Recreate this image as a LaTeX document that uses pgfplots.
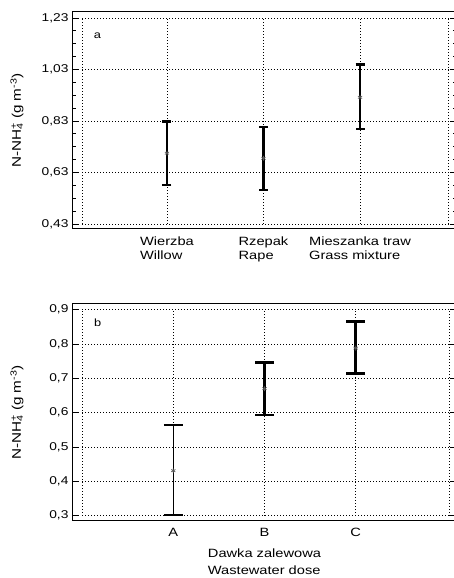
\documentclass[border=0pt]{standalone}
\usepackage{fontspec}
\setmainfont{Liberation Sans}[FakeStretch=1.22]
\usepackage{pgfplots}
\pgfplotsset{compat=1.18}

% dotted inner frame and grid, as in Statistica output
\tikzset{gridline/.style={black, line width=0.8pt, dash pattern=on 0.8pt off 2.2pt}}

\pgfplotsset{
  panel/.style={
    scale only axis, width=385pt, height=217pt,
    anchor=south west,
    axis line style={line width=1pt},
    ytick pos=both, tick align=inside,
    major tick length=7pt, minor tick length=4pt,
    tick style={black, line width=0.8pt},
    xtick style={draw=none},
    yticklabel style={font=\fontsize{11.3}{13}\selectfont},
    xticklabel style={align=left, font=\fontsize{12}{14}\selectfont, yshift=-4pt},
    ylabel={N-NH\rlap{\textsuperscript{+}}\textsubscript{4} (g m\textsuperscript{-3})},
    ylabel style={at={(axis description cs:-0.143,0.5)}, anchor=center,
                  font=\fontsize{12.5}{14}\selectfont},
    clip=false,
  },
  means/.style={
    only marks, mark=asterisk, mark size=2.4pt,
    mark options={black!65, line width=0.7pt},
    error bars/.cd, y dir=both, y explicit,
  },
}

\begin{document}
\begin{tikzpicture}
\path[use as bounding box] (0,0) rectangle (453pt,578pt);

% ---- a: plant species
\begin{axis}[panel,
  at={(72pt,349pt)},
  xmin=-0.984, xmax=3.005,
  ymin=0.4106, ymax=1.2533,
  xtick={0,1,2},
  xticklabels={{Wierzba\\Willow},{Rzepak\\Rape},{Mieszanka traw\\Grass mixture}},
  ytick={0.43,0.63,0.83,1.03,1.23},
  yticklabels={{0,43},{0,63},{0,83},{1,03},{1,23}},
  minor y tick num=3,
]
\pgfplotsinvokeforeach{0.43,0.63,0.83,1.03,1.23}{
  \draw[gridline] (axis cs:-0.88,#1) -- (axis cs:2.92,#1);}
\pgfplotsinvokeforeach{-0.88,0,1,2,2.92}{
  \draw[gridline] (axis cs:#1,0.43) -- (axis cs:#1,1.23);}
\node[anchor=west, inner sep=0pt, font=\fontsize{10.5}{11}\selectfont] at (axis cs:-0.76,1.163) {a};

\addplot[means,
  error bar style={black, line width=2.7pt},
  error mark options={black, line width=2.4pt, mark size=4.5pt, rotate=90}]
  coordinates {
    (0,0.705) += (0,0.123) -= (0,0.123)
    (1,0.685) += (0,0.122) -= (0,0.124)
    (2,0.922) += (0,0.127) -= (0,0.122)
  };
\end{axis}

% ---- b: wastewater dose
\begin{axis}[panel,
  at={(72pt,57pt)},
  xmin=-1.111, xmax=3.111,
  ymin=0.2845, ymax=0.9166,
  xtick={0,1,2},
  xticklabels={A,B,C},
  ytick={0.3,0.4,0.5,0.6,0.7,0.8,0.9},
  yticklabels={{0,3},{0,4},{0,5},{0,6},{0,7},{0,8},{0,9}},
  xlabel={Dawka zalewowa\\Wastewater dose},
  xlabel style={align=left, font=\fontsize{12}{16.5}\selectfont, yshift=-5pt},
]
\pgfplotsinvokeforeach{0.3,0.4,0.5,0.6,0.7,0.8,0.9}{
  \draw[gridline] (axis cs:-1,#1) -- (axis cs:3.026,#1);}
\pgfplotsinvokeforeach{-1,0,1,2,3.026}{
  \draw[gridline] (axis cs:#1,0.3) -- (axis cs:#1,0.9);}
\node[anchor=west, inner sep=0pt, font=\fontsize{10.5}{11}\selectfont] at (axis cs:-0.87,0.862) {b};

\addplot[means,
  error bar style={black, line width=1pt},
  error mark options={black, line width=1.6pt, mark size=9.5pt, rotate=90}]
  coordinates {
    (0,0.431) += (0,0.133) -= (0,0.129)
  };
\addplot[means,
  error bar style={black, line width=2.5pt},
  error mark options={black, line width=2.4pt, mark size=9.5pt, rotate=90}]
  coordinates {
    (1,0.670) += (0,0.076) -= (0,0.077)
    (2,0.788) += (0,0.078) -= (0,0.074)
  };
\end{axis}
\end{tikzpicture}
\end{document}
